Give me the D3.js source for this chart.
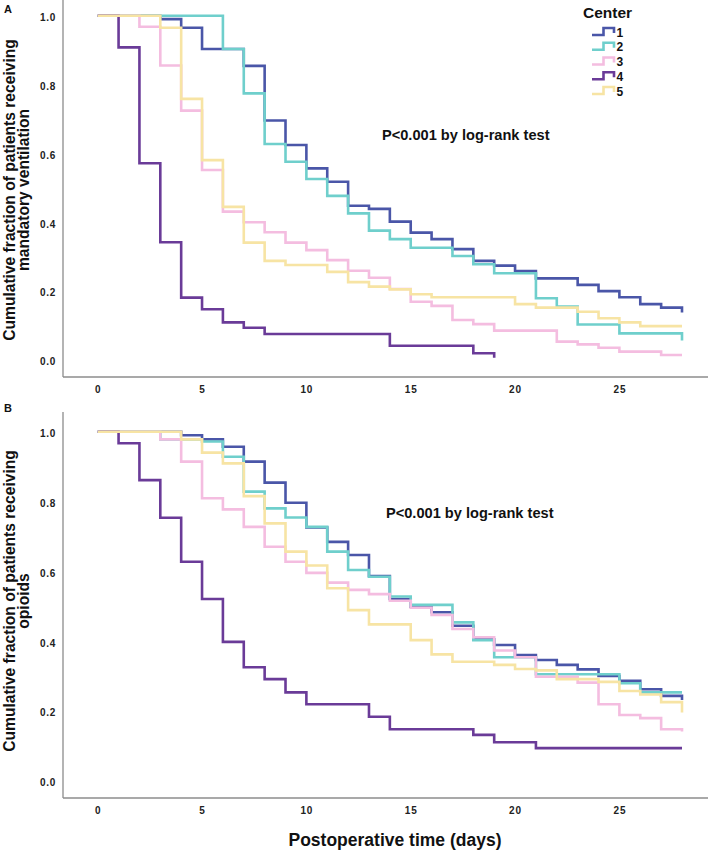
<!DOCTYPE html>
<html>
<head>
<meta charset="utf-8">
<script src="https://cdn.jsdelivr.net/npm/d3@7"></script>
<style>
  html, body { margin: 0; padding: 0; background: #fff; }
  svg { display: block; }
  text { font-family: "Liberation Sans", Arial, sans-serif; }
</style>
</head>
<body>
<svg id="chart" width="709" height="862"></svg>
<script>
// ---------------- DATA ----------------
const centers = ["1", "2", "3", "4", "5"];
const colors = ["#4a56a8", "#6fcfcc", "#f4bde0", "#6a3b98", "#f7e4a4"];
const days = d3.range(0, 29); // 0..28
const xTicks = [0, 5, 10, 15, 20, 25];
const yTicks = [0, 0.2, 0.4, 0.6, 0.8, 1.0];

// Panel A: mandatory ventilation (value from day d onward)
const ventC1 = [1, 1, 1, 0.99, 0.965, 0.903, 0.903, 0.854, 0.695, 0.624, 0.556, 0.517, 0.447, 0.438, 0.401, 0.369, 0.350, 0.321, 0.287, 0.273, 0.257, 0.236, 0.236, 0.217, 0.199, 0.181, 0.161, 0.151, 0.137];
const ventC2 = [1, 1, 1, 1, 1, 1, 0.903, 0.774, 0.627, 0.575, 0.525, 0.476, 0.425, 0.375, 0.350, 0.325, 0.325, 0.301, 0.277, 0.251, 0.251, 0.178, 0.154, 0.102, 0.102, 0.076, 0.076, 0.076, 0.055];
const ventC3 = [1, 1, 0.968, 0.855, 0.724, 0.551, 0.430, 0.399, 0.370, 0.340, 0.318, 0.289, 0.258, 0.238, 0.205, 0.168, 0.156, 0.115, 0.103, 0.084, 0.084, 0.084, 0.052, 0.044, 0.034, 0.023, 0.023, 0.013, 0.013];
const ventC4 = [1, 0.908, 0.571, 0.341, 0.180, 0.146, 0.108, 0.0925, 0.074, 0.074, 0.074, 0.074, 0.074, 0.074, 0.040, 0.040, 0.040, 0.040, 0.018, 0.005, null, null, null, null, null, null, null, null, null];
const ventC5 = [1, 1, 1, 0.965, 0.758, 0.580, 0.444, 0.340, 0.287, 0.275, 0.275, 0.255, 0.225, 0.212, 0.204, 0.190, 0.181, 0.181, 0.181, 0.181, 0.161, 0.151, 0.151, 0.139, 0.120, 0.108, 0.097, 0.097, 0.097];

// Panel B: opioids
const opioC1 = [1, 1, 1, 1, 0.990, 0.978, 0.957, 0.914, 0.854, 0.796, 0.725, 0.684, 0.646, 0.586, 0.520, 0.498, 0.482, 0.443, 0.404, 0.388, 0.359, 0.345, 0.331, 0.318, 0.299, 0.285, 0.261, 0.242, 0.230];
const opioC2 = [1, 1, 1, 0.978, 0.978, 0.972, 0.928, 0.828, 0.780, 0.754, 0.727, 0.656, 0.603, 0.584, 0.527, 0.503, 0.503, 0.453, 0.402, 0.353, 0.353, 0.304, 0.304, 0.304, 0.304, 0.278, 0.252, 0.252, 0.252];
const opioC3 = [1, 1, 1, 0.978, 0.914, 0.809, 0.777, 0.727, 0.670, 0.627, 0.595, 0.567, 0.546, 0.534, 0.515, 0.495, 0.474, 0.434, 0.410, 0.372, 0.353, 0.297, 0.297, 0.280, 0.218, 0.187, 0.178, 0.146, 0.140];
const opioC4 = [1, 0.967, 0.861, 0.753, 0.627, 0.520, 0.397, 0.324, 0.290, 0.252, 0.218, 0.218, 0.218, 0.182, 0.146, 0.146, 0.146, 0.146, 0.130, 0.109, 0.109, 0.092, 0.092, 0.092, 0.092, 0.092, 0.092, 0.092, 0.092];
const opioC5 = [1, 1, 1, 1, 0.978, 0.940, 0.909, 0.815, 0.737, 0.656, 0.616, 0.551, 0.488, 0.447, 0.447, 0.402, 0.361, 0.340, 0.340, 0.331, 0.319, 0.315, 0.290, 0.290, 0.282, 0.256, 0.246, 0.224, 0.194];

const panels = [
  { letter: "A", series: [ventC1, ventC2, ventC3, ventC4, ventC5],
    yTitle: ["Cumulative fraction of patients receiving", "mandatory ventilation"],
    top: 0, y1: 15.7, y0: 359.5, axisY: 377, titleY: 190, letterY: 13, pText: { x: 382, y: 140 } },
  { letter: "B", series: [opioC1, opioC2, opioC3, opioC4, opioC5],
    yTitle: ["Cumulative fraction of patients receiving", "opioids"],
    top: 412, y1: 431.7, y0: 780.2, axisY: 798, titleY: 601, letterY: 412, pText: { x: 386, y: 518 } }
];

// ---------------- DRAW ----------------
const svg = d3.select("#chart");
const axisX = 63, axisRight = 708;
const x = d3.scaleLinear().domain([0, 28]).range([97.7, 682]);

panels.forEach(p => {
  const y = d3.scaleLinear().domain([0, 1]).range([p.y0, p.y1]);
  const g = svg.append("g");

  // axis lines
  g.append("line").attr("x1", axisX).attr("x2", axisX).attr("y1", p.top).attr("y2", p.axisY)
    .attr("stroke", "#8c8c8c").attr("stroke-width", 1.3);
  g.append("line").attr("x1", axisX).attr("x2", axisRight).attr("y1", p.axisY).attr("y2", p.axisY)
    .attr("stroke", "#8c8c8c").attr("stroke-width", 1.3);

  // y axis labels
  const ya = g.append("g").attr("transform", `translate(${axisX},2)`)
    .call(d3.axisLeft(y).tickValues(yTicks).tickFormat(d3.format(".1f")).tickSize(0).tickPadding(7));
  ya.select(".domain").remove();
  ya.selectAll("text").attr("font-family", "Liberation Sans, Arial, sans-serif")
    .attr("font-size", 10).attr("font-weight", "bold").attr("fill", "#222").style("letter-spacing", "0.7px");

  // x axis labels
  const xa = g.append("g").attr("transform", `translate(0,${p.axisY})`)
    .call(d3.axisBottom(x).tickValues(xTicks).tickSize(0).tickPadding(8.5));
  xa.select(".domain").remove();
  xa.selectAll("text").attr("font-family", "Liberation Sans, Arial, sans-serif")
    .attr("font-size", 10).attr("font-weight", "bold").attr("fill", "#222").style("letter-spacing", "0.9px");

  // y title
  const t = g.append("text").attr("transform", `translate(0,${p.titleY}) rotate(-90)`)
    .attr("text-anchor", "middle").attr("font-size", 15.6).attr("font-weight", "bold").attr("fill", "#111");
  t.append("tspan").attr("x", 0).attr("y", 14.5).text(p.yTitle[0]);
  t.append("tspan").attr("x", 0).attr("y", 29).text(p.yTitle[1]);

  // panel letter
  g.append("text").attr("x", 4).attr("y", p.letterY).attr("font-size", 11)
    .attr("font-weight", "bold").attr("fill", "#111").text(p.letter);

  // p-value annotation
  g.append("text").attr("x", p.pText.x).attr("y", p.pText.y).attr("font-size", 14.6)
    .attr("font-weight", "bold").attr("fill", "#111").text("P<0.001 by log-rank test");

  // survival step curves (the day-28 value gives the terminal drop)
  const line = d3.line()
    .defined(d => d.v !== null)
    .x(d => x(d.d)).y(d => y(d.v))
    .curve(d3.curveStepAfter);
  p.series.forEach((vals, i) => {
    const pts = days.map((d, k) => ({ d: d, v: vals[k] }));
    g.append("path").datum(pts).attr("d", line)
      .attr("fill", "none").attr("stroke", colors[i]).attr("stroke-width", 2.6)
      .attr("stroke-linejoin", "miter").attr("stroke-linecap", "butt");
  });
});

// x axis title
svg.append("text").attr("x", 395).attr("y", 846).attr("text-anchor", "middle")
  .attr("font-size", 17.5).attr("font-weight", "bold").attr("fill", "#111")
  .text("Postoperative time (days)");

// legend
const lg = svg.append("g");
lg.append("text").attr("x", 583).attr("y", 18).attr("font-size", 15.5).attr("font-weight", "bold")
  .attr("fill", "#111").text("Center");
const legY = d3.scalePoint().domain(centers).range([32, 91]);
centers.forEach((c, i) => {
  const cy = legY(c);
  const path = d3.path();
  path.moveTo(592, cy + 3);
  path.lineTo(603.5, cy + 3);
  path.lineTo(603.5, cy - 4);
  path.lineTo(614, cy - 4);
  path.lineTo(614, cy + 1);
  lg.append("path").attr("d", path.toString()).attr("fill", "none")
    .attr("stroke", colors[i]).attr("stroke-width", 2.6);
  lg.append("text").attr("x", 616.5).attr("y", cy + 4.5).attr("font-size", 12)
    .attr("font-weight", "bold").attr("fill", "#111").text(c);
});
</script>
</body>
</html>
